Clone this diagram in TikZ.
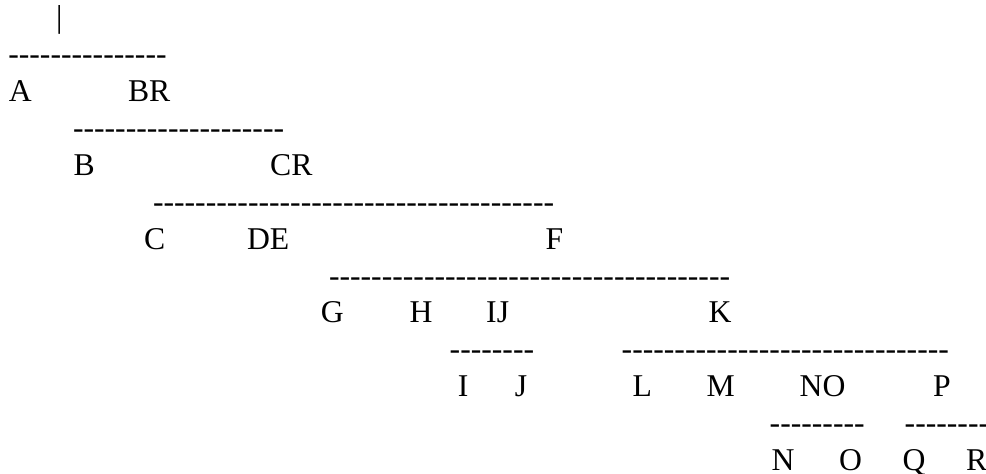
\documentclass[tikz,border=0pt]{standalone}
\usepackage{fontspec}
\setmainfont{Liberation Serif}[Ligatures=TeXOff]
\tikzset{lbl/.style={anchor=base west,inner sep=0pt,font=\fontsize{31.7}{38}\selectfont}}

\begin{document}
\begin{tikzpicture}[x=1pt,y=-1pt]
    \useasboundingbox (0,0) rectangle (986,474);

    \node[lbl,anchor=base] (bar) at (59.3,27.7) {|};

    % level 1
    \node[lbl] (dashA) at (8.1,64.6) {---------------};
    \node[lbl] (A) at (8.8,101.5) {A};
    \node[lbl] (BR) at (127.8,101.5) {BR};

    % level 2
    \node[lbl] (dashB) at (72.8,138.4) {--------------------};
    \node[lbl] (B) at (73.5,175.3) {B};
    \node[lbl] (CR) at (270,175.3) {CR};

    % level 3
    \node[lbl] (dashC) at (152.8,212.2) {--------------------------------------};
    \node[lbl] (C) at (144,249.1) {C};
    \node[lbl] (DE) at (246.8,249.1) {DE};
    \node[lbl] (F) at (545.5,249.1) {F};

    % level 4
    \node[lbl] (dashF) at (328.8,286) {--------------------------------------};
    \node[lbl] (G) at (320.7,322.9) {G};
    \node[lbl] (H) at (409.4,322.9) {H};
    \node[lbl] (IJ) at (486,322.9) {IJ};
    \node[lbl] (K) at (708.3,322.9) {K};

    % level 5
    \node[lbl] (dashIJ) at (449.5,359.8) {--------};
    \node[lbl] (dashK) at (621.5,359.8) {-------------------------------};
    \node[lbl] (I) at (457.7,396.7) {I};
    \node[lbl] (J) at (514.7,396.7) {J};
    \node[lbl] (L) at (632.3,396.7) {L};
    \node[lbl] (M) at (706.3,396.7) {M};
    \node[lbl] (NO) at (799.5,396.7) {NO};
    \node[lbl] (P) at (932.8,396.7) {P};

    % level 6
    \node[lbl] (dashNO) at (769.5,433.6) {---------};
    \node[lbl] (dashP) at (904.5,433.6) {--------};
    \node[lbl] (N) at (771.3,470.5) {N};
    \node[lbl] (O) at (839,470.5) {O};
    \node[lbl] (Q) at (902.3,470.5) {Q};
    \node[lbl] (R) at (966,470.5) {R};
\end{tikzpicture}
\end{document}
